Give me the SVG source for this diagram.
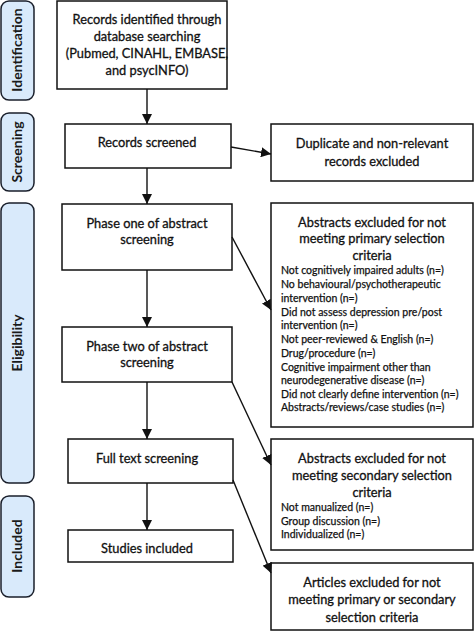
<svg xmlns="http://www.w3.org/2000/svg" width="474" height="631" viewBox="0 0 474 631">
<style>
.side{fill:#d9eafb;stroke:#1a1f2b;stroke-width:1.5}
.sl{font-family:Lato,"Liberation Sans",sans-serif;font-weight:bold;font-size:14px;fill:#1a1a1a;text-anchor:middle}
.box{fill:#fff;stroke:#111;stroke-width:1.5}
.t{font-family:Lato,"Liberation Sans",sans-serif;font-size:12.8px;fill:#111;stroke:#111;stroke-width:0.3;text-anchor:middle}
.s{font-family:Lato,"Liberation Sans",sans-serif;font-size:10.5px;fill:#111;stroke:#111;stroke-width:0.25}
.c{stroke:#111;stroke-width:1.4;fill:none;marker-end:url(#ah)}
</style>
<defs>
<marker id="ah" viewBox="0 0 10 10" refX="10" refY="5" markerWidth="10" markerHeight="10" markerUnits="userSpaceOnUse" orient="auto">
<path d="M0,0 L10,5 L0,10 z" fill="#111"/>
</marker>
</defs>
<rect width="474" height="631" fill="#fff"/>
<g id="stage-identification"><rect class="side" x="1" y="1" width="33" height="99" rx="8"/><text class="sl" transform="translate(22,50) rotate(-90)">Identification</text></g>
<g id="stage-screening"><rect class="side" x="1" y="113" width="33" height="78" rx="8"/><text class="sl" transform="translate(22,152) rotate(-90)">Screening</text></g>
<g id="stage-eligibility"><rect class="side" x="1" y="203" width="33" height="280" rx="8"/><text class="sl" transform="translate(22,343) rotate(-90)">Eligibility</text></g>
<g id="stage-included"><rect class="side" x="1" y="496" width="33" height="101" rx="8"/><text class="sl" transform="translate(22,546) rotate(-90)">Included</text></g>

<g id="records-identified"><rect class="box" x="57" y="1" width="170" height="88"/>
<text class="t" x="147" y="24">Records identified through</text>
<text class="t" x="147" y="41">database searching</text>
<text class="t" x="147" y="58">(Pubmed, CINAHL, EMBASE,</text>
<text class="t" x="147" y="75">and psycINFO)</text></g>
<g id="records-screened"><rect class="box" x="65" y="124" width="166" height="44"/>
<text class="t" x="147" y="147">Records screened</text></g>
<g id="phase-one"><rect class="box" x="62" y="204" width="170" height="66"/>
<text class="t" x="147" y="228">Phase one of abstract</text>
<text class="t" x="147" y="244">screening</text></g>
<g id="phase-two"><rect class="box" x="62" y="327" width="170" height="55"/>
<text class="t" x="147" y="351">Phase two of abstract</text>
<text class="t" x="147" y="367">screening</text></g>
<g id="full-text"><rect class="box" x="68" y="439" width="165" height="44"/>
<text class="t" x="147" y="463">Full text screening</text></g>
<g id="studies-included"><rect class="box" x="68" y="530" width="165" height="32"/>
<text class="t" x="147" y="553">Studies included</text></g>

<g id="duplicates"><rect class="box" x="271" y="124" width="202" height="57"/>
<text class="t" x="372" y="148">Duplicate and non-relevant</text>
<text class="t" x="372" y="166">records excluded</text></g>
<g id="excluded-primary"><rect class="box" x="271" y="203" width="202" height="224"/>
<text class="t" x="372" y="227">Abstracts excluded for not</text>
<text class="t" x="372" y="243">meeting primary selection</text>
<text class="t" x="372" y="260">criteria</text>
<text class="s" x="281" y="274">Not cognitively impaired adults (n=)</text>
<text class="s" x="281" y="288">No behavioural/psychotherapeutic</text>
<text class="s" x="281" y="302">intervention (n=)</text>
<text class="s" x="281" y="316">Did not assess depression pre/post</text>
<text class="s" x="281" y="329">intervention (n=)</text>
<text class="s" x="281" y="343">Not peer-reviewed &amp; English (n=)</text>
<text class="s" x="281" y="357">Drug/procedure (n=)</text>
<text class="s" x="281" y="371">Cognitive impairment other than</text>
<text class="s" x="281" y="384">neurodegenerative disease (n=)</text>
<text class="s" x="281" y="398">Did not clearly define intervention (n=)</text>
<text class="s" x="281" y="411">Abstracts/reviews/case studies (n=)</text></g>
<g id="excluded-secondary"><rect class="box" x="271" y="439" width="202" height="111"/>
<text class="t" x="372" y="463">Abstracts excluded for not</text>
<text class="t" x="372" y="480">meeting secondary selection</text>
<text class="t" x="372" y="497">criteria</text>
<text class="s" x="281" y="511">Not manualized (n=)</text>
<text class="s" x="281" y="525">Group discussion (n=)</text>
<text class="s" x="281" y="538">Individualized (n=)</text></g>
<g id="articles-excluded"><rect class="box" x="271" y="563" width="202" height="67"/>
<text class="t" x="372" y="587">Articles excluded for not</text>
<text class="t" x="372" y="604">meeting primary or secondary</text>
<text class="t" x="372" y="622">selection criteria</text></g>

<g id="connectors">
<line class="c" x1="147" y1="89" x2="147" y2="124"/>
<line class="c" x1="147" y1="168" x2="147" y2="204"/>
<line class="c" x1="147" y1="270" x2="147" y2="327"/>
<line class="c" x1="147" y1="382" x2="147" y2="439"/>
<line class="c" x1="147" y1="483" x2="147" y2="530"/>
<line class="c" x1="231" y1="147" x2="271" y2="154"/>
<line class="c" x1="232" y1="237" x2="271" y2="310"/>
<line class="c" x1="232" y1="382" x2="271" y2="465"/>
<line class="c" x1="233" y1="480" x2="271" y2="573"/>
</g>
</svg>
